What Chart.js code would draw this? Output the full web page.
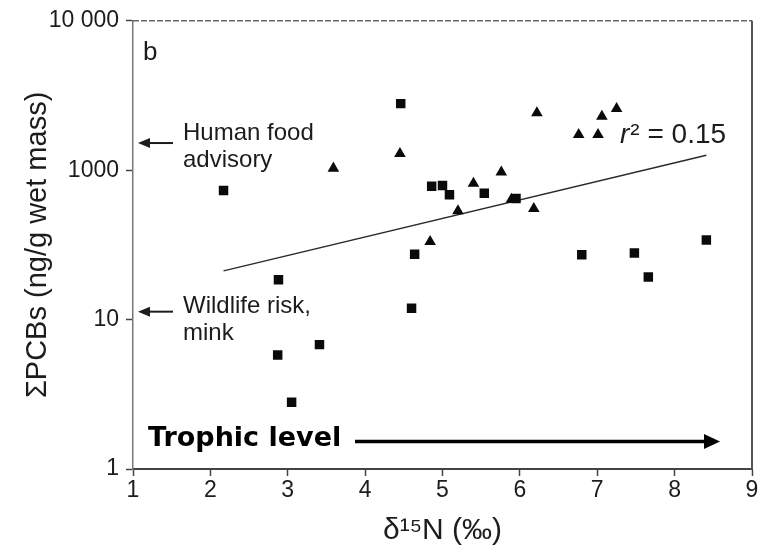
<!DOCTYPE html>
<html>
<head>
<meta charset="utf-8">
<script src="https://cdn.jsdelivr.net/npm/chart.js@4.4.1/dist/chart.umd.min.js"></script>
<style>
  html, body { margin: 0; padding: 0; background: #fff; }
  #wrap { width: 766px; height: 552px; position: relative; }
</style>
</head>
<body>
<div id="wrap"><canvas id="pcbChart"></canvas></div>
<script>
// Fish samples: d15N (per mil) vs total PCBs (ng/g wet mass)
const squareX = [2.17, 2.88, 3.41, 2.87, 3.05, 4.46, 4.86, 5.00, 5.09, 5.54, 5.95, 4.64, 4.60, 6.80, 7.48, 7.66, 8.41];
const squareY = [732, 185, 68, 58, 28, 2790, 780, 790, 685, 700, 647, 274, 119, 272, 279, 193, 341];
const triangleX = [3.59, 4.45, 6.22, 6.76, 7.01, 7.06, 7.25, 5.76, 5.40, 5.89, 5.20, 6.18, 4.84];
const triangleY = [1030, 1290, 2420, 1730, 1730, 2290, 2580, 970, 815, 638, 534, 553, 332];

// regression line end points
const fitX = [2.17, 8.41];
const fitY = [212, 1259];

// guideline levels marked by arrows on the y axis
const humanFoodAdvisory = 1520;
const wildlifeRiskMink = 113;

const xTicks = [1, 2, 3, 4, 5, 6, 7, 8, 9];
const yTickValues = [10, 100, 1000, 10000];
const yTickLabels = ['1', '10', '1000', '10 000'];

const toPoints = (xs, ys) => xs.map((x, i) => ({ x: x, y: ys[i] }));

const FONT = "'Liberation Sans', Arial, Helvetica, sans-serif";
const INK = '#1c1c1c';

function arrowLeft(ctx, xTail, xTip, y, headLen, headHalf, width) {
    ctx.beginPath();
    ctx.moveTo(xTail, y);
    ctx.lineTo(xTip + headLen - 1, y);
    ctx.lineWidth = width;
    ctx.stroke();
    ctx.beginPath();
    ctx.moveTo(xTip, y);
    ctx.lineTo(xTip + headLen, y - headHalf);
    ctx.lineTo(xTip + headLen, y + headHalf);
    ctx.closePath();
    ctx.fill();
}

function arrowRight(ctx, xTail, xTip, y, headLen, headHalf, width) {
    ctx.beginPath();
    ctx.moveTo(xTail, y);
    ctx.lineTo(xTip - headLen + 1, y);
    ctx.lineWidth = width;
    ctx.stroke();
    ctx.beginPath();
    ctx.moveTo(xTip, y);
    ctx.lineTo(xTip - headLen, y - headHalf);
    ctx.lineTo(xTip - headLen, y + headHalf);
    ctx.closePath();
    ctx.fill();
}

// frame edges, panel letter, guideline arrows and notes
const notes = {
    id: 'notes',
    beforeDatasetsDraw(chart) {
        const { ctx, chartArea: a } = chart;
        ctx.save();
        ctx.strokeStyle = '#666';
        ctx.lineWidth = 1.5;
        ctx.setLineDash([6, 2]);
        ctx.beginPath();
        ctx.moveTo(a.left, a.top);
        ctx.lineTo(a.right, a.top);
        ctx.stroke();
        ctx.setLineDash([]);
        ctx.strokeStyle = '#555';
        ctx.lineWidth = 2;
        ctx.beginPath();
        ctx.moveTo(a.right, a.top);
        ctx.lineTo(a.right, a.bottom);
        ctx.stroke();
        ctx.restore();
    },
    afterDatasetsDraw(chart) {
        const { ctx, chartArea: a, scales: { y } } = chart;
        ctx.save();
        ctx.fillStyle = INK;
        ctx.strokeStyle = INK;
        ctx.textBaseline = 'alphabetic';
        ctx.textAlign = 'left';

        ctx.font = '26px ' + FONT;
        ctx.fillText('b', a.left + 10, a.top + 39);

        const yFood = y.getPixelForValue(humanFoodAdvisory);
        const yMink = y.getPixelForValue(wildlifeRiskMink);
        arrowLeft(ctx, a.left + 40, a.left + 5, yFood, 12, 5, 2);
        arrowLeft(ctx, a.left + 40, a.left + 5, yMink, 12, 5, 2);

        ctx.font = '24px ' + FONT;
        ctx.fillText('Human food', a.left + 50, a.top + 119);
        ctx.fillText('advisory', a.left + 50, a.top + 146);
        ctx.fillText('Wildlife risk,', a.left + 50, a.top + 292);
        ctx.fillText('mink', a.left + 50, a.top + 319);

        // r squared of the fit
        ctx.font = 'italic 28px ' + FONT;
        ctx.fillText('r', 620, 143);
        const rW = ctx.measureText('r').width;
        ctx.font = '28px ' + FONT;
        ctx.fillText('\u00b2 = 0.15', 620 + rW + 1, 143);

        // trophic level arrow
        ctx.fillStyle = '#000';
        ctx.strokeStyle = '#000';
        ctx.font = "bold 27px 'DejaVu Sans', sans-serif";
        ctx.fillText('Trophic level', 148, 446);
        arrowRight(ctx, 355, 720, 441.5, 16, 7.5, 3.5);
        ctx.restore();
    }
};

const ctx = document.getElementById('pcbChart').getContext('2d');
new Chart(ctx, {
    type: 'scatter',
    data: {
        datasets: [
            {
                label: 'fit',
                data: toPoints(fitX, fitY),
                showLine: true,
                borderColor: '#2a2a2a',
                borderWidth: 1.4,
                pointRadius: 0,
                order: 2
            },
            {
                label: 'squares',
                data: toPoints(squareX, squareY),
                pointStyle: 'rect',
                pointRadius: 6.7,
                backgroundColor: '#0a0a0a',
                borderWidth: 0,
                order: 1
            },
            {
                label: 'triangles',
                data: toPoints(triangleX, triangleY),
                pointStyle: 'triangle',
                pointRadius: 6.7,
                backgroundColor: '#0a0a0a',
                borderWidth: 0,
                order: 1
            }
        ]
    },
    options: {
        responsive: true,
        maintainAspectRatio: false,
        animation: false,
        layout: { padding: { left: 0, right: 14, top: 19, bottom: 0 } },
        plugins: {
            legend: { display: false },
            tooltip: { enabled: false }
        },
        scales: {
            x: {
                type: 'linear',
                position: 'bottom',
                min: 1,
                max: 9,
                afterBuildTicks: axis => { axis.ticks = xTicks.map(v => ({ value: v })); },
                afterFit: scale => { scale.height = 83; },
                ticks: {
                    font: { family: FONT, size: 23 },
                    color: INK,
                    padding: 1,
                    autoSkip: false,
                    maxRotation: 0
                },
                grid: {
                    drawOnChartArea: false,
                    tickLength: 7,
                    tickColor: '#444',
                    tickWidth: 1.5
                },
                border: { color: '#444', width: 2 },
                title: {
                    display: true,
                    text: 'δ¹⁵N (‰)',
                    font: { family: FONT, size: 30 },
                    color: INK,
                    padding: { top: 0, bottom: 3 }
                }
            },
            y: {
                type: 'logarithmic',
                position: 'left',
                min: 10,
                max: 10000,
                afterBuildTicks: axis => { axis.ticks = yTickValues.map(v => ({ value: v })); },
                afterFit: scale => { scale.width = 133; },
                ticks: {
                    font: { family: FONT, size: 23 },
                    color: INK,
                    padding: 7,
                    autoSkip: false,
                    callback: value => yTickLabels[yTickValues.indexOf(value)]
                },
                grid: {
                    drawOnChartArea: false,
                    tickLength: 7,
                    tickColor: '#444',
                    tickWidth: 1.5
                },
                border: { color: '#777', width: 1.5, dash: [4, 2] },
                title: {
                    display: true,
                    text: 'ΣPCBs (ng/g wet mass)',
                    font: { family: FONT, size: 29 },
                    color: INK,
                    padding: { top: 21, bottom: 0 }
                }
            }
        }
    },
    plugins: [notes]
});
</script>
</body>
</html>
